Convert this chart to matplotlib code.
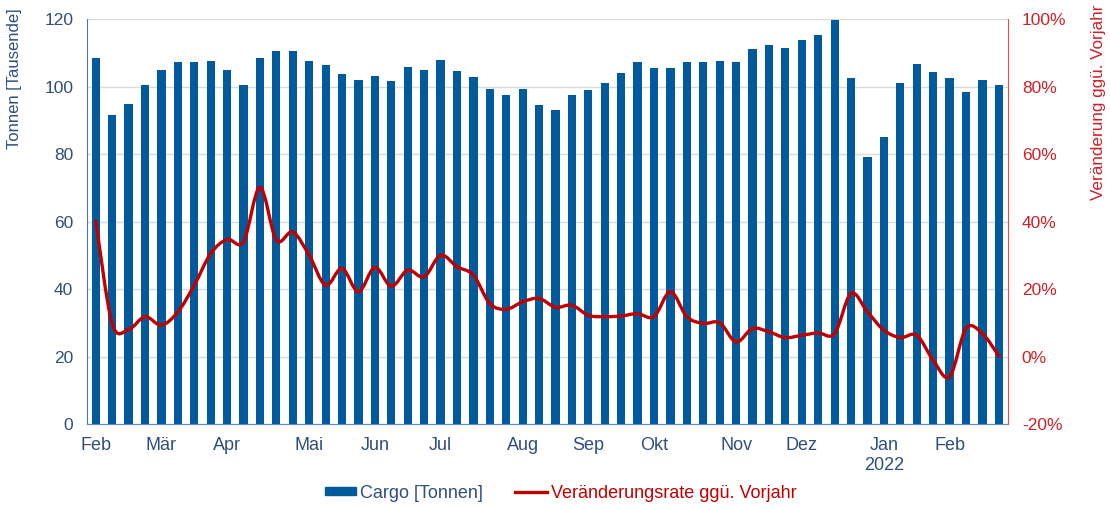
import matplotlib.pyplot as plt
import numpy as np
from matplotlib.path import Path
from matplotlib.patches import PathPatch
from matplotlib.lines import Line2D
from matplotlib.ticker import FuncFormatter

plt.rcParams['font.family'] = ['Liberation Sans', 'DejaVu Sans']

# -----------------------------
# data (weekly, Feb 2021 - Feb 2022)
# -----------------------------
cargo = [108.5, 91.6, 94.8, 100.3, 104.9, 107.2, 107.2, 107.5, 104.9, 100.3,
         108.5, 110.4, 110.4, 107.5, 106.3, 103.8, 101.9, 103.0, 101.5, 105.7,
         104.9, 107.9, 104.5, 102.7, 99.4, 97.5, 99.4, 94.5, 93.0, 97.5,
         99.0, 101.1, 104.1, 107.2, 105.6, 105.6, 107.2, 107.2, 107.5, 107.2,
         111.2, 112.3, 111.5, 113.8, 115.3, 119.7, 102.6, 79.0, 84.9, 101.1,
         106.8, 104.2, 102.6, 98.3, 101.9, 100.3]
change_pct = [40.2, 9.8, 8.0, 11.8, 9.3, 13.2, 21.1, 30.5, 34.7, 34.0,
              50.1, 34.5, 36.9, 30.0, 21.1, 26.1, 19.2, 26.4, 20.8, 25.6,
              23.6, 30.0, 26.6, 24.1, 15.7, 14.0, 16.2, 17.2, 14.6, 15.2,
              12.2, 11.8, 12.0, 12.7, 11.8, 19.2, 11.8, 9.8, 10.0, 4.3,
              8.3, 7.3, 5.6, 6.3, 7.0, 6.8, 18.7, 13.2, 7.8, 5.6,
              6.3, -1.1, -6.0, 8.3, 6.8, 0.1]
month_pos = [0, 4, 8, 13, 17, 21, 26, 30, 34, 39, 43, 48, 52]
month_labels = ["Feb", "Mär", "Apr", "Mai", "Jun", "Jul", "Aug", "Sep",
                "Okt", "Nov", "Dez", "Jan\n2022", "Feb"]

blue = "#005A9C"
text_blue = "#2F4E7E"
red = "#C00000"
red_text = "#CC2229"

x = np.arange(len(cargo))

fig = plt.figure(figsize=(11.1, 5.07), dpi=100)
ax = fig.add_axes([0.0784, 0.1637, 0.8296, 0.7988])
ax2 = ax.twinx()

# bars
ax.bar(x, cargo, width=0.5, color=blue, zorder=2)
ax.set_xlim(-0.53, len(cargo) - 0.45)
ax.set_ylim(0, 120)
ax.set_yticks(range(0, 121, 20))
ax.grid(axis='y', color="#D9D9D9", linewidth=1, zorder=0)
ax.set_axisbelow(True)

ax.set_xticks(month_pos)
ax.set_xticklabels(month_labels, linespacing=1.25)
ax.tick_params(axis='x', length=0, pad=9, labelsize=13, colors=text_blue)
ax.tick_params(axis='y', length=0, pad=10, labelsize=12.5, colors=text_blue)

ax.spines["top"].set_visible(False)
ax.spines["right"].set_visible(False)
ax.spines["left"].set_color("#4F75AD")
ax.spines["bottom"].set_color("#5B8BD0")
for s in ["top", "left", "bottom"]:
    ax2.spines[s].set_visible(False)
ax2.spines["right"].set_color("#E05050")

# smoothed line (Excel-like bezier through the points)
pts = np.column_stack([x, change_pct]).astype(float)
n = len(pts)
verts = [pts[0]]
codes = [Path.MOVETO]
for i in range(n - 1):
    p0 = pts[max(i - 1, 0)]
    p1 = pts[i]
    p2 = pts[i + 1]
    p3 = pts[min(i + 2, n - 1)]
    c1 = p1 + (p2 - p0) / 6
    c2 = p2 - (p3 - p1) / 6
    verts += [c1, c2, p2]
    codes += [Path.CURVE4] * 3
ax2.add_patch(PathPatch(Path(verts, codes), fill=False, edgecolor=red,
                        linewidth=2.4, capstyle='round', joinstyle='round', zorder=3))

ax2.set_ylim(-20, 100)
ax2.set_yticks(range(-20, 101, 20))
ax2.yaxis.set_major_formatter(FuncFormatter(lambda v, p: f"{v:.0f}%"))
ax2.tick_params(axis='y', length=0, pad=10, labelsize=12.5, colors=red_text)

# axis titles placed at the top like the original
fig.text(15 / 1110, 1 - 8 / 507, "Tonnen [Tausende]", rotation=90,
         ha='center', va='top', fontsize=12, color=text_blue)
fig.text(1098 / 1110, 1 - 5 / 507, "Veränderung ggü. Vorjahr", rotation=90,
         ha='center', va='top', fontsize=12.3, color=red_text)

# legend
handles = [plt.Rectangle((0, 0), 1, 1, color=blue),
           Line2D([0], [0], color=red, linewidth=2.4)]
leg = fig.legend(handles, ["Cargo [Tonnen]", "Veränderungsrate ggü. Vorjahr"],
                 loc='center', bbox_to_anchor=(0.505, 1 - 493 / 507), ncol=2,
                 frameon=False, fontsize=13, handlelength=1.75, handleheight=0.35,
                 handletextpad=0.2, columnspacing=1.8)
leg.get_texts()[0].set_color(text_blue)
leg.get_texts()[1].set_color(red)

fig.savefig("out.png", dpi=100)
